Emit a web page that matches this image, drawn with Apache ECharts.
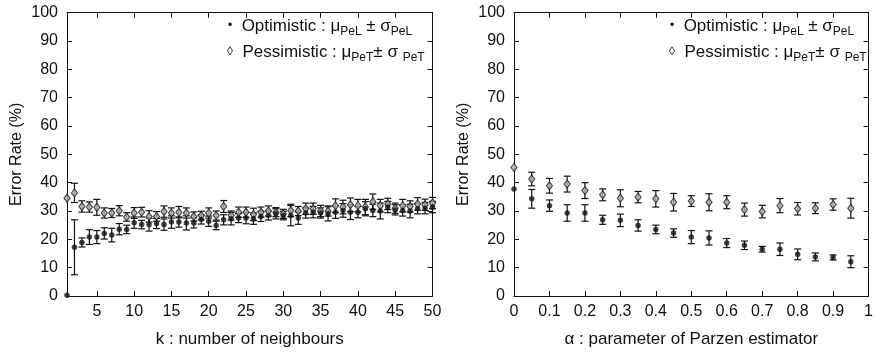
<!DOCTYPE html>
<html>
<head>
<meta charset="utf-8">
<script src="https://cdn.jsdelivr.net/npm/echarts@6/dist/echarts.min.js"></script>
<style>
html, body { margin: 0; padding: 0; background: #fff; }
#chart { width: 876px; height: 353px; }
</style>
</head>
<body>
<div id="chart"></div>
<script>
// left panel: k-nearest neighbours
const kValues = [1, 2, 3, 4, 5, 6, 7, 8, 9, 10, 11, 12, 13, 14, 15, 16, 17, 18, 19, 20,
  21, 22, 23, 24, 25, 26, 27, 28, 29, 30, 31, 32, 33, 34, 35, 36, 37, 38, 39, 40,
  41, 42, 43, 44, 45, 46, 47, 48, 49, 50];
const kOptMean = [0.3, 17.2, 18.9, 20.8, 20.8, 22.1, 21.5, 23.6, 23.5, 25.9,
  25.2, 25.2, 25.6, 25.2, 26.1, 26.1, 25.8, 25.8, 27.0, 26.4,
  24.9, 26.9, 27.3, 27.5, 27.5, 27.3, 28.1, 28.4, 29.0, 28.4,
  28.4, 27.5, 29.3, 29.6, 29.3, 29.0, 29.6, 30.2, 29.6, 29.6,
  30.8, 30.2, 30.0, 31.4, 30.4, 30.2, 30.0, 30.8, 31.0, 31.4];
const kOptErr = [0, 9.7, 1.6, 2.6, 2.3, 2.0, 2.4, 2.0, 1.5, 2.0,
  1.5, 2.3, 1.8, 2.0, 2.2, 1.8, 2.5, 1.8, 1.6, 1.8,
  1.5, 1.8, 2.2, 1.6, 2.0, 2.0, 1.8, 1.6, 1.8, 1.5,
  3.6, 2.2, 1.8, 2.0, 1.8, 2.5, 2.2, 2.4, 2.6, 2.0,
  2.5, 2.2, 2.8, 2.0, 1.8, 2.0, 2.4, 1.8, 2.0, 2.0];
const kPesMean = [34.5, 36.4, 31.6, 31.4, 31.3, 29.3, 29.3, 30.1, 27.9, 29.3,
  29.6, 28.1, 28.1, 29.8, 29.3, 29.6, 29.3, 28.1, 28.4, 29.3,
  28.4, 31.6, 28.4, 29.6, 29.6, 28.8, 29.6, 30.0, 29.6, 29.0,
  30.2, 30.0, 30.8, 30.8, 30.0, 30.0, 31.9, 31.4, 32.2, 31.9,
  31.4, 33.3, 31.9, 32.5, 31.0, 31.9, 31.6, 32.5, 32.2, 32.8];
const kPesErr = [0, 3.4, 2.0, 1.8, 2.8, 1.8, 1.6, 1.8, 1.5, 1.9,
  1.7, 2.0, 1.7, 2.0, 1.8, 2.0, 1.8, 1.6, 1.5, 1.8,
  1.6, 2.1, 1.6, 1.8, 1.8, 2.2, 1.8, 1.8, 1.6, 1.6,
  2.2, 1.6, 2.0, 2.0, 2.0, 1.8, 2.4, 2.4, 2.4, 2.2,
  2.7, 2.7, 2.2, 2.0, 1.8, 2.2, 2.0, 2.2, 2.0, 2.0];
const kTicks = [5, 10, 15, 20, 25, 30, 35, 40, 45, 50];

// right panel: Parzen estimator
const alphaValues = [0, 0.05, 0.1, 0.15, 0.2, 0.25, 0.3, 0.35, 0.4, 0.45,
  0.5, 0.55, 0.6, 0.65, 0.7, 0.75, 0.8, 0.85, 0.9, 0.95];
const aOptMean = [37.8, 34.3, 31.9, 29.3, 29.3, 26.9, 26.7, 24.9, 23.5, 22.2,
  20.8, 20.5, 18.7, 17.9, 16.5, 16.5, 14.7, 13.8, 13.6, 12.1];
const aOptErr = [0, 3.3, 2.0, 2.9, 2.9, 1.6, 2.2, 2.0, 1.5, 1.5,
  2.3, 2.5, 1.6, 1.5, 1.0, 2.2, 1.9, 1.4, 0.9, 2.1];
const aPesMean = [45.4, 41.3, 38.9, 39.5, 37.2, 35.7, 34.5, 34.9, 34.3, 33.1,
  33.5, 33.1, 33.1, 30.5, 29.8, 31.9, 30.8, 31.0, 32.3, 31.0];
const aPesErr = [0, 2.4, 2.6, 2.8, 2.8, 2.1, 3.0, 2.0, 2.9, 3.1,
  1.9, 3.0, 2.3, 2.3, 2.2, 2.5, 2.2, 1.9, 2.0, 3.5];

const FONT = '"Liberation Sans", Arial, Helvetica, sans-serif';
const INK = '#111';

function errData(xs, mean, err) {
  return xs.map((x, i) => [x, mean[i] - err[i], mean[i] + err[i]]);
}
function pts(xs, mean) {
  return xs.map((x, i) => [x, mean[i]]);
}

function renderErr(params, api) {
  const x = api.value(0);
  const lo = api.coord([x, api.value(1)]);
  const hi = api.coord([x, api.value(2)]);
  if (Math.abs(lo[1] - hi[1]) < 0.5) return null;
  const w = 3.5;
  const st = { stroke: '#111', lineWidth: 1.2 };
  return {
    type: 'group',
    children: [
      { type: 'line', shape: { x1: lo[0], y1: lo[1], x2: hi[0], y2: hi[1] }, style: st },
      { type: 'line', shape: { x1: lo[0] - w, y1: lo[1], x2: lo[0] + w, y2: lo[1] }, style: st },
      { type: 'line', shape: { x1: hi[0] - w, y1: hi[1], x2: hi[0] + w, y2: hi[1] }, style: st }
    ]
  };
}

const lineStyle = { color: INK, width: 1 };
const labelStyle = { color: INK, fontFamily: FONT, fontSize: 16 };

function bottomX(gridIndex, extra) {
  return Object.assign({
    type: 'value', gridIndex: gridIndex, position: 'bottom',
    axisLine: { onZero: false, lineStyle: lineStyle },
    axisTick: { inside: true, length: 5, lineStyle: lineStyle },
    splitLine: { show: false },
    nameLocation: 'middle', nameGap: 35,
    nameTextStyle: { color: INK, fontFamily: FONT, fontSize: 17 }
  }, extra);
}
function topX(gridIndex, extra) {
  return Object.assign({
    type: 'value', gridIndex: gridIndex, position: 'top',
    axisLine: { onZero: false, lineStyle: lineStyle },
    axisTick: { inside: true, length: 5, lineStyle: lineStyle },
    axisLabel: { show: false },
    splitLine: { show: false }
  }, extra);
}
function leftY(gridIndex) {
  return {
    type: 'value', gridIndex: gridIndex, position: 'left', min: 0, max: 100, interval: 10,
    name: 'Error Rate (%)', nameLocation: 'middle', nameGap: 42,
    nameTextStyle: { color: INK, fontFamily: FONT, fontSize: 16 },
    axisLine: { show: true, onZero: false, lineStyle: lineStyle },
    axisTick: { show: true, inside: true, length: 5, lineStyle: lineStyle },
    axisLabel: Object.assign({ margin: 9 }, labelStyle),
    splitLine: { show: false }
  };
}
function rightY(gridIndex) {
  return {
    type: 'value', gridIndex: gridIndex, position: 'right', min: 0, max: 100, interval: 10,
    axisLine: { show: true, onZero: false, lineStyle: lineStyle },
    axisTick: { show: true, inside: true, length: 5, lineStyle: lineStyle },
    axisLabel: { show: false },
    splitLine: { show: false }
  };
}

const optSymbol = { symbol: 'circle', symbolSize: 5.5, itemStyle: { color: '#111' } };
const pesSymbol = { symbol: 'diamond', symbolSize: [6, 8], itemStyle: { color: '#b8b8b8', borderColor: '#222', borderWidth: 1.2 } };

function panelSeries(xi, yi, xs, om, oe, pm, pe) {
  return [
    { type: 'custom', xAxisIndex: xi, yAxisIndex: yi, renderItem: renderErr, data: errData(xs, pm, pe), encode: { x: 0, y: [1, 2] }, silent: true },
    { type: 'custom', xAxisIndex: xi, yAxisIndex: yi, renderItem: renderErr, data: errData(xs, om, oe), encode: { x: 0, y: [1, 2] }, silent: true },
    Object.assign({ type: 'scatter', xAxisIndex: xi, yAxisIndex: yi, data: pts(xs, pm), clip: false }, pesSymbol),
    Object.assign({ type: 'scatter', xAxisIndex: xi, yAxisIndex: yi, data: pts(xs, om), clip: false }, optSymbol)
  ];
}

const legendRich = {
  m: { fontSize: 12, fontFamily: FONT, fill: INK },
  t: { fontSize: 17, fontFamily: FONT, fill: INK },
  s: { fontSize: 12, fontFamily: FONT, fill: INK, padding: [11, 0, 0, 0] }
};
function legendText(x, y, text) {
  return { type: 'text', x: x, y: y, style: { text: text, rich: legendRich, verticalAlign: 'middle', fill: INK } };
}
const optLabel = '{m|•}{t|  Optimistic : μ}{s|PeL}{t| ± σ}{s|PeL}';
const pesLabel = '{m|◊}{t|  Pessimistic : μ}{s|PeT}{t|± σ }{s|PeT}';

const chart = echarts.init(document.getElementById('chart'));
chart.setOption({
  backgroundColor: '#fff',
  animation: false,
  grid: [
    { left: 67, top: 12.7, width: 365.5, height: 285 },
    { left: 514, top: 12.7, width: 366, height: 285 }
  ],
  xAxis: [
    bottomX(0, {
      min: 1, max: 50, name: 'k : number of neighbours',
      axisTick: { inside: true, length: 5, lineStyle: lineStyle, customValues: kTicks },
      axisLabel: Object.assign({ customValues: kTicks, margin: 8 }, labelStyle)
    }),
    topX(0, {
      min: 1, max: 50,
      axisTick: { inside: true, length: 5, lineStyle: lineStyle, customValues: kTicks }
    }),
    bottomX(1, {
      min: 0, max: 1, interval: 0.1, name: 'α : parameter of Parzen estimator',
      axisLabel: Object.assign({ margin: 8, showMaxLabel: true }, labelStyle)
    }),
    topX(1, { min: 0, max: 1, interval: 0.1 })
  ],
  yAxis: [leftY(0), rightY(0), leftY(1), rightY(1)],
  series: [].concat(
    panelSeries(0, 0, kValues, kOptMean, kOptErr, kPesMean, kPesErr),
    panelSeries(2, 2, alphaValues, aOptMean, aOptErr, aPesMean, aPesErr)
  ),
  graphic: [
    legendText(228, 26, optLabel),
    legendText(227, 52, pesLabel),
    legendText(670, 26, optLabel),
    legendText(669, 52, pesLabel)
  ]
});
</script>
</body>
</html>
